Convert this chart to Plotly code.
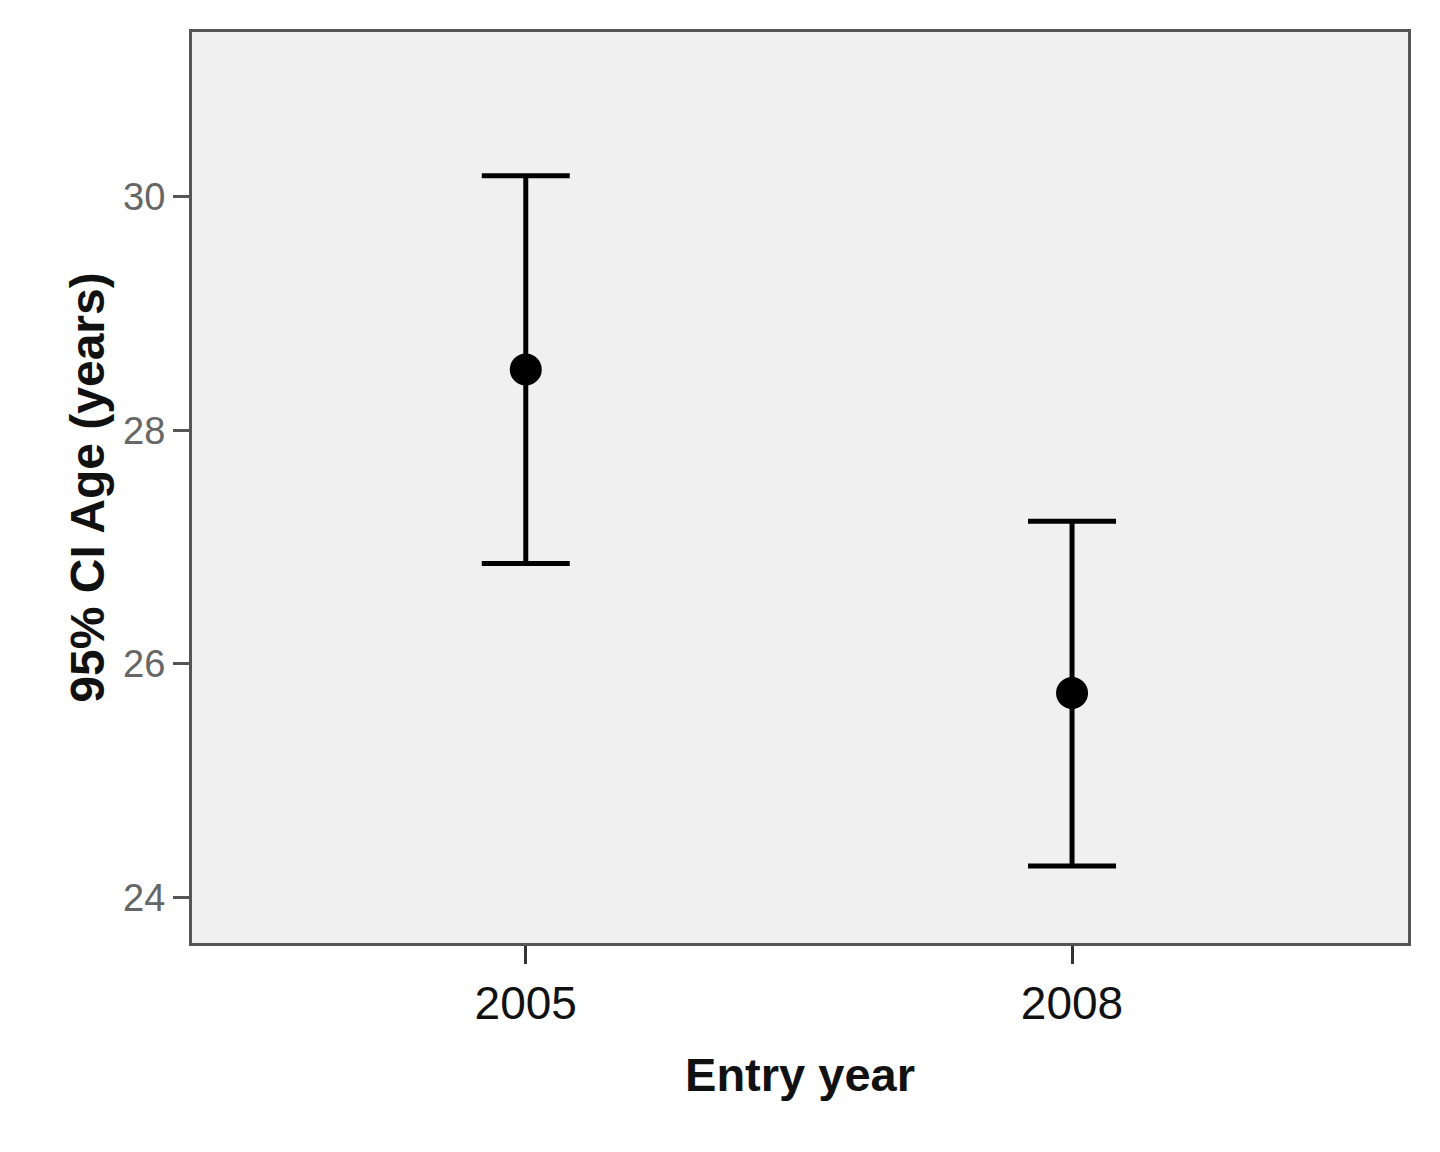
import plotly.graph_objects as go

years = ["2005", "2008"]
means = [28.52, 25.75]
upper = [30.18, 27.22]
lower = [26.86, 24.27]

err_plus = [u - m for u, m in zip(upper, means)]
err_minus = [m - l for m, l in zip(means, lower)]

fig = go.Figure()
fig.add_trace(go.Scatter(
    x=years, y=means, mode="markers",
    marker=dict(color="black", size=32),
    error_y=dict(type="data", array=err_plus, arrayminus=err_minus,
                 color="black", thickness=5, width=44, symmetric=False),
    showlegend=False,
))

font_family = "Liberation Sans, Arial, sans-serif"
fig.update_layout(
    width=1440, height=1152,
    margin=dict(l=184, r=40, t=24, b=217),
    paper_bgcolor="white", plot_bgcolor="#f0f0f0",
    font=dict(family=font_family),
    xaxis=dict(
        type="category", range=[-0.611, 1.615],
        showgrid=False, zeroline=False,
        showline=True, linecolor="#555555", linewidth=3, mirror=True,
        ticks="outside", ticklen=18, tickwidth=2.5, tickcolor="#333333",
        tickfont=dict(size=46, color="#111111"),
        title=dict(text="<b>Entry year</b>", font=dict(size=47, color="#111111"), standoff=30),
    ),
    yaxis=dict(
        range=[23.61, 31.41],
        tickvals=[24, 26, 28, 30],
        showgrid=False, zeroline=False,
        showline=True, linecolor="#555555", linewidth=3, mirror=True,
        ticks="outside", ticklen=16, tickwidth=2.5, tickcolor="#555555",
        tickfont=dict(size=38, color="#666666"),
        title=dict(text="<b>95% CI Age (years)</b>", font=dict(size=48, color="#111111"), standoff=4),
    ),
)

fig.write_html("out.html")
